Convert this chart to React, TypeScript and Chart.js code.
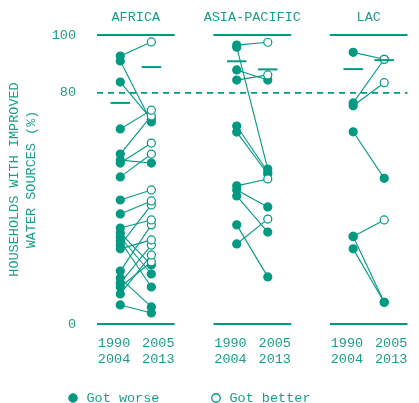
import React, { useEffect, useRef } from 'react';
import { Chart, registerables } from 'chart.js';

Chart.register(...registerables);

// ---------- data ----------
const regions = ['AFRICA', 'ASIA-PACIFIC', 'LAC'];
const periodLabels = [['1990', '2004'], ['2005', '2013']];
const yTickValues = [0, 80, 100];
const targetLevel = 80;
const legendTexts = ['Got worse', 'Got better'];

const africaStart = [92.7, 67.5, 58.8, 55.7, 50.9, 42.9, 38.1, 27.3, 33.2, 18.3, 26.0, 14.2, 10.4, 12.8, 91.0, 83.7, 56.7, 31.5, 30.1, 28.7, 15.9, 6.6];
const africaEnd = [97.6, 74.0, 72.0, 62.6, 58.8, 46.4, 42.6, 41.2, 36.0, 34.3, 29.1, 27.3, 23.9, 21.5, 69.9, 70.9, 55.7, 20.4, 17.3, 12.8, 5.9, 3.8];

const asiaStart = [96.5, 84.4, 47.8, 27.7, 95.8, 87.9, 68.5, 66.4, 46.4, 44.3, 34.3];
const asiaEnd = [97.5, 86.2, 50.2, 36.3, 53.6, 84.4, 52.6, 51.9, 40.5, 31.8, 16.3];

const lacStart = [76.5, 75.5, 30.3, 94.0, 66.5, 30.3, 26.0];
const lacEnd = [91.6, 83.5, 36.0, 91.6, 50.4, 7.5, 7.5];

const regionalStart = [76.5, 90.9, 88.2];
const regionalEnd = [88.9, 88.1, 91.3];

// ---------- layout / style ----------
const TEAL = '#009a82';
const TEXT = '#1b9e88';
const FONT = "'Liberation Mono', 'DejaVu Sans Mono', monospace";
const FS = 13.5;
const panelStart = [0, 1.5, 3];
const panelWidth = 1;
const pointOffset = [0.3, 0.7];
const tickOffset = [0.22, 0.79];
const markHalf = 0.125;

const regionSeries = [
  [africaStart, africaEnd],
  [asiaStart, asiaEnd],
  [lacStart, lacEnd],
];

function buildDatasets() {
  const medians: any[] = [];
  const better: any[] = [];
  const worse: any[] = [];
  const frames: any[] = [];
  regions.forEach((_, r) => {
    const s = panelStart[r];
    [regionalStart[r], regionalEnd[r]].forEach((v, k) => {
      medians.push({
        data: [
          { x: s + pointOffset[k] - markHalf, y: v },
          { x: s + pointOffset[k] + markHalf, y: v },
        ],
        borderColor: TEAL,
        borderWidth: 2,
        pointRadius: 0,
      });
    });
    const [st, en] = regionSeries[r];
    st.forEach((v0, i) => {
      const v1 = en[i];
      const isBetter = v1 > v0;
      const ds = {
        data: [
          { x: s + pointOffset[0], y: v0 },
          { x: s + pointOffset[1], y: v1 },
        ],
        borderColor: TEAL,
        borderWidth: 1.1,
        pointRadius: 4,
        pointBorderWidth: 1.2,
        pointBorderColor: TEAL,
        pointBackgroundColor: [TEAL, isBetter ? '#ffffff' : TEAL],
      };
      (isBetter ? better : worse).push(ds);
    });
    [100, 0].forEach((v) => {
      frames.push({
        data: [
          { x: s, y: v },
          { x: s + panelWidth, y: v },
        ],
        borderColor: TEAL,
        borderWidth: 2,
        pointRadius: 0,
      });
    });
  });
  frames.push({
    data: [
      { x: 0, y: targetLevel },
      { x: panelStart[2] + panelWidth, y: targetLevel },
    ],
    borderColor: TEAL,
    borderWidth: 1.8,
    borderDash: [6, 5],
    pointRadius: 0,
  });
  return [...medians, ...better, ...worse, ...frames];
}

export default function App() {
  const ref = useRef<HTMLCanvasElement | null>(null);

  useEffect(() => {
    document.body.style.margin = '0';
    Chart.defaults.font.family = FONT;
    const bottomTicks: number[] = [];
    panelStart.forEach((s) => tickOffset.forEach((o) => bottomTicks.push(s + o)));
    const topTicks = panelStart.map((s) => s + panelWidth / 2);
    const xMax = panelStart[2] + panelWidth;

    const chart = new Chart(ref.current as HTMLCanvasElement, {
      type: 'line',
      data: { datasets: buildDatasets() as any },
      options: {
        animation: false,
        responsive: true,
        maintainAspectRatio: false,
        events: [],
        layout: { padding: { left: 40.75, right: 2, top: 0, bottom: -11.75 } },
        elements: { line: { tension: 0 } },
        datasets: { line: { clip: false } as any },
        scales: {
          x: {
            type: 'linear',
            position: 'bottom',
            min: 0,
            max: xMax,
            grid: { display: false, drawTicks: false },
            border: { display: false },
            afterBuildTicks: (s: any) => {
              s.ticks = bottomTicks.map((v) => ({ value: v }));
            },
            afterFit: (s: any) => {
              s.height = 41.75;
            },
            ticks: {
              autoSkip: false,
              maxRotation: 0,
              minRotation: 0,
              padding: 11,
              color: TEXT,
              font: { size: FS, lineHeight: 16 / FS, family: FONT },
              callback: (_v: any, i: number) => periodLabels[i % 2],
            },
          },
          x2: {
            type: 'linear',
            axis: 'x',
            position: 'top',
            min: 0,
            max: xMax,
            grid: { display: false, drawTicks: false },
            border: { display: false },
            afterBuildTicks: (s: any) => {
              s.ticks = topTicks.map((v) => ({ value: v }));
            },
            afterFit: (s: any) => {
              s.height = 35;
            },
            ticks: {
              autoSkip: false,
              maxRotation: 0,
              minRotation: 0,
              padding: 10,
              color: TEXT,
              font: { size: FS, lineHeight: 16 / FS, family: FONT },
              callback: (_v: any, i: number) => regions[i],
            },
          } as any,
          y: {
            type: 'linear',
            position: 'left',
            min: 0,
            max: 100,
            grid: { display: false, drawTicks: false },
            border: { display: false },
            afterBuildTicks: (s: any) => {
              s.ticks = yTickValues.map((v) => ({ value: v }));
            },
            afterFit: (s: any) => {
              s.width = 56.25;
            },
            ticks: {
              padding: 21,
              color: TEXT,
              font: { size: FS, family: FONT },
            },
            title: {
              display: true,
              text: ['HOUSEHOLDS WITH IMPROVED', 'WATER SOURCES (%)'],
              color: TEXT,
              font: { size: FS, lineHeight: 1.28, family: FONT },
              padding: { top: -34.75, bottom: 0 },
            },
          },
        },
        plugins: {
          tooltip: { enabled: false },
          legend: {
            display: true,
            position: 'bottom',
            align: 'start',
            onClick: () => {},
            labels: {
              usePointStyle: true,
              boxWidth: FS,
              boxHeight: 6,
              padding: 25.5,
              color: TEXT,
              font: { size: FS, family: FONT },
              generateLabels: () => [
                {
                  text: legendTexts[0] + '   ',
                  pointStyle: 'circle',
                  fillStyle: TEAL,
                  strokeStyle: TEAL,
                  lineWidth: 1,
                  fontColor: TEXT,
                  hidden: false,
                } as any,
                {
                  text: legendTexts[1],
                  pointStyle: 'circle',
                  fillStyle: '#ffffff',
                  strokeStyle: TEAL,
                  lineWidth: 1.3,
                  fontColor: TEXT,
                  hidden: false,
                } as any,
              ],
            },
          },
        },
      },
    });
    return () => chart.destroy();
  }, []);

  return (
    <div style={{ position: 'relative', width: 419, height: 403 }}>
      <canvas ref={ref} />
    </div>
  );
}
